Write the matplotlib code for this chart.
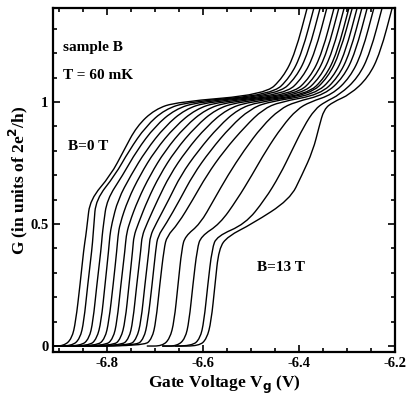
import matplotlib
matplotlib.use("Agg")
import matplotlib.pyplot as plt
from matplotlib.path import Path
from matplotlib.patches import PathPatch
from matplotlib.ticker import MultipleLocator

plt.rcParams['font.family'] = ['Liberation Serif', 'DejaVu Serif']
plt.rcParams['font.weight'] = 'bold'

# conductance levels shared by every trace, and the gate voltage at which
# each trace crosses them, B = 0 T ... 13 T
g_levels = [0.0, 0.03, 0.1, 0.25, 0.4, 0.45, 0.5, 0.6, 0.7, 0.8, 0.9, 0.97,
            1.0, 1.03, 1.1, 1.2, 1.4]

v_start = [-6.92, -6.92, -6.92, -6.92, -6.92, -6.92, -6.92, -6.92, -6.92,
           -6.92, -6.92, -6.717, -6.685, -6.685, -6.658]

v_cross = [
    [-6.890, -6.873, -6.865, -6.856, -6.848, -6.844, -6.841, -6.835, -6.792, -6.765, -6.738, -6.700, -6.654, -6.471, -6.433, -6.408, -6.381],
    [-6.873, -6.856, -6.848, -6.840, -6.831, -6.829, -6.827, -6.823, -6.783, -6.754, -6.719, -6.679, -6.631, -6.456, -6.419, -6.394, -6.367],
    [-6.854, -6.837, -6.829, -6.821, -6.812, -6.810, -6.807, -6.800, -6.767, -6.738, -6.700, -6.658, -6.610, -6.444, -6.406, -6.381, -6.354],
    [-6.837, -6.821, -6.812, -6.804, -6.796, -6.794, -6.790, -6.777, -6.750, -6.719, -6.679, -6.637, -6.590, -6.429, -6.392, -6.367, -6.340],
    [-6.821, -6.804, -6.796, -6.787, -6.779, -6.777, -6.773, -6.756, -6.731, -6.700, -6.658, -6.615, -6.569, -6.415, -6.377, -6.352, -6.325],
    [-6.804, -6.787, -6.779, -6.771, -6.762, -6.760, -6.754, -6.735, -6.710, -6.679, -6.637, -6.594, -6.548, -6.404, -6.367, -6.342, -6.315],
    [-6.787, -6.771, -6.762, -6.754, -6.746, -6.744, -6.735, -6.715, -6.690, -6.658, -6.615, -6.573, -6.527, -6.394, -6.356, -6.331, -6.304],
    [-6.771, -6.754, -6.746, -6.738, -6.729, -6.727, -6.717, -6.694, -6.669, -6.635, -6.592, -6.550, -6.506, -6.383, -6.346, -6.321, -6.294],
    [-6.754, -6.738, -6.729, -6.721, -6.712, -6.710, -6.698, -6.671, -6.646, -6.610, -6.567, -6.527, -6.485, -6.377, -6.340, -6.315, -6.287],
    [-6.740, -6.723, -6.715, -6.706, -6.698, -6.694, -6.677, -6.648, -6.621, -6.585, -6.542, -6.502, -6.465, -6.367, -6.329, -6.304, -6.277],
    [-6.723, -6.706, -6.698, -6.690, -6.681, -6.675, -6.652, -6.621, -6.592, -6.556, -6.512, -6.475, -6.440, -6.356, -6.319, -6.294, -6.267],
    [-6.685, -6.669, -6.660, -6.652, -6.644, -6.637, -6.606, -6.577, -6.548, -6.515, -6.477, -6.440, -6.408, -6.346, -6.308, -6.283, -6.256],
    [-6.654, -6.637, -6.629, -6.621, -6.612, -6.604, -6.565, -6.529, -6.498, -6.469, -6.435, -6.404, -6.377, -6.331, -6.294, -6.269, -6.242],
    [-6.623, -6.606, -6.598, -6.590, -6.581, -6.571, -6.512, -6.471, -6.440, -6.415, -6.390, -6.367, -6.346, -6.315, -6.277, -6.252, -6.225],
    [-6.608, -6.592, -6.583, -6.575, -6.567, -6.548, -6.498, -6.419, -6.394, -6.371, -6.358, -6.348, -6.329, -6.294, -6.256, -6.231, -6.204],
]


def smooth_path(xs, ys):
    # quadratic bezier through the midpoints, the read points act as controls
    pts = list(zip(xs, ys))
    mid = lambda a, b: ((a[0] + b[0]) / 2, (a[1] + b[1]) / 2)
    verts = [pts[0], mid(pts[0], pts[1])]
    codes = [Path.MOVETO, Path.LINETO]
    for i in range(1, len(pts) - 1):
        verts += [pts[i], mid(pts[i], pts[i + 1])]
        codes += [Path.CURVE3, Path.CURVE3]
    verts.append(pts[-1])
    codes.append(Path.LINETO)
    return Path(verts, codes)


fig = plt.figure(figsize=(4.15, 3.97), dpi=100)
ax = fig.add_axes([0.128, 0.113, 0.824, 0.867])

for vs, vc in zip(v_start, v_cross):
    p = smooth_path([vs] + vc, [0.0] + g_levels)
    ax.add_patch(PathPatch(p, fill=False, edgecolor='black', lw=1.0))

ax.set_xlim(-6.912, -6.2)
ax.set_ylim(-0.025, 1.385)

ax.set_xticks([-6.8, -6.6, -6.4, -6.2])
ax.set_xticklabels(['-6.8', '-6.6', '-6.4', '-6.2'])
ax.set_yticks([0, 0.5, 1])
ax.set_yticklabels(['0', '0.5', '1'])
ax.xaxis.set_minor_locator(MultipleLocator(0.05))
ax.yaxis.set_minor_locator(MultipleLocator(0.1))
ax.tick_params(which='both', direction='in', top=True, right=True,
               labelsize=10.5, width=1.2)
ax.tick_params(which='major', length=5)
ax.tick_params(which='minor', length=3)
for s in ax.spines.values():
    s.set_linewidth(1.6)

ax.set_xlabel('Gate Voltage V$_\\mathbf{g}$ (V)', fontsize=12.5, fontweight='bold', labelpad=3)
ax.set_ylabel('G (in units of 2e$^\\mathbf{2}$/h)', fontsize=12.5, fontweight='bold', labelpad=0)

ax.text(-6.892, 1.221, 'sample B', fontsize=11, fontweight='bold', va='center')
ax.text(-6.892, 1.107, 'T = 60 mK', fontsize=11, fontweight='bold', va='center')
ax.text(-6.881, 0.816, 'B=0 T', fontsize=11, fontweight='bold', va='center')
ax.text(-6.488, 0.32, 'B=13 T', fontsize=11, fontweight='bold', va='center')

fig.savefig('out.png', dpi=100)
